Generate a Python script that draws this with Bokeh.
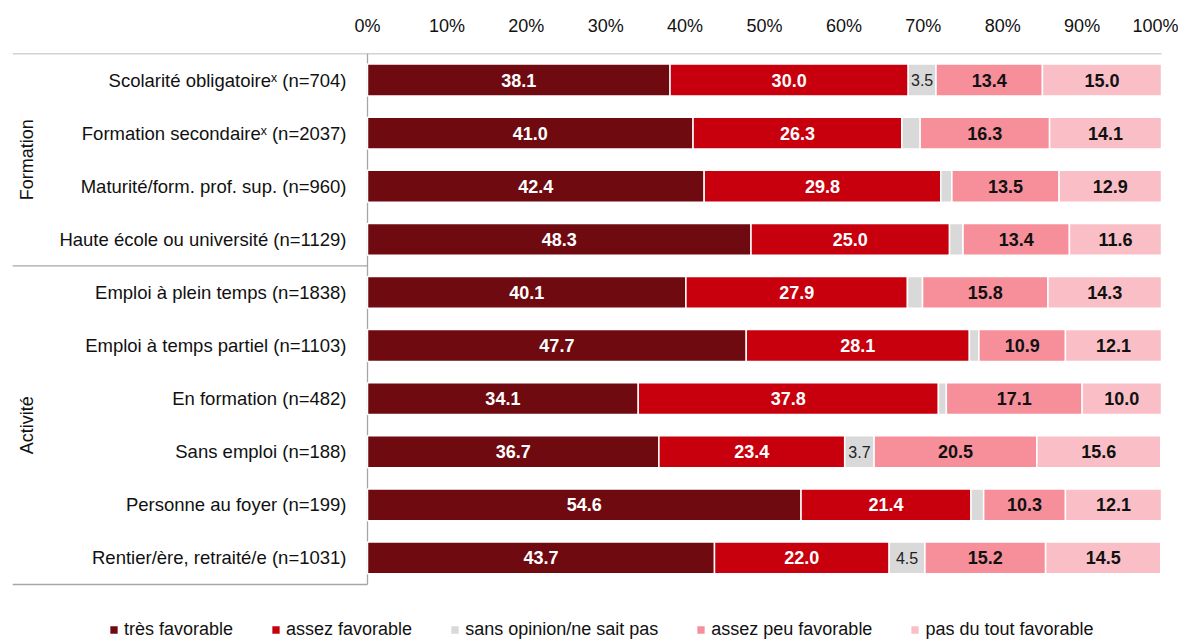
import numpy as np
from bokeh.plotting import figure
from bokeh.models import Range1d, ColumnDataSource, FixedTicker, Legend, LegendItem
from bokeh.core.properties import value
from bokeh.embed import file_html
from bokeh.resources import INLINE

categories = [
    "Scolarité obligatoire\u02e3 (n=704)",
    "Formation secondaire\u02e3 (n=2037)",
    "Maturité/form. prof. sup. (n=960)",
    "Haute école ou université (n=1129)",
    "Emploi à plein temps (n=1838)",
    "Emploi à temps partiel (n=1103)",
    "En formation (n=482)",
    "Sans emploi (n=188)",
    "Personne au foyer (n=199)",
    "Rentier/ère, retraité/e (n=1031)",
]
groups = ["Formation", "Activité"]
group_sizes = [4, 6]
series = ["très favorable", "assez favorable", "sans opinion/ne sait pas",
          "assez peu favorable", "pas du tout favorable"]
tres = [38.1, 41.0, 42.4, 48.3, 40.1, 47.7, 34.1, 36.7, 54.6, 43.7]
assez = [30.0, 26.3, 29.8, 25.0, 27.9, 28.1, 37.8, 23.4, 21.4, 22.0]
sans = [3.5, 2.3, 1.4, 1.7, 1.9, 1.2, 1.0, 3.7, 1.6, 4.5]
peu = [13.4, 16.3, 13.5, 13.4, 15.8, 10.9, 17.1, 20.5, 10.3, 15.2]
pas = [15.0, 14.1, 12.9, 11.6, 14.3, 12.1, 10.0, 15.6, 12.1, 14.5]
tick_values = [0, 10, 20, 30, 40, 50, 60, 70, 80, 90, 100]
tick_labels = ["0%", "10%", "20%", "30%", "40%", "50%", "60%", "70%", "80%", "90%", "100%"]

colors = ["#6E0A10", "#C8000E", "#D9D9D9", "#F78F9B", "#FABFC6"]
label_colors = ["white", "white", "#222222", "#111111", "#111111"]
FONT = "Liberation Sans"

data = [tres, assez, sans, peu, pas]
ys = np.arange(len(categories))

p = figure(width=1178, height=640, output_backend="svg", toolbar_location=None,
           x_axis_location="above", y_axis_type=None,
           min_border_left=12, min_border_right=8, min_border_top=53, min_border_bottom=0)
p.x_range = Range1d(-44.71, 101.13)
p.y_range = Range1d(10.555, -0.5)
p.outline_line_color = None
p.grid.visible = False
p.background_fill_color = "white"
p.border_fill_color = "white"

ax = p.xaxis[0]
ax.ticker = FixedTicker(ticks=tick_values)
ax.major_label_overrides = {v: l for v, l in zip(tick_values, tick_labels)}
ax.axis_line_color = None
ax.major_tick_line_color = None
ax.minor_tick_line_color = None
ax.major_label_standoff = 12
ax.major_label_text_font = FONT
ax.major_label_text_font_size = "18px"
ax.major_label_text_color = "#111111"

# frame lines
line_col = "#A6A6A6"
xmin = p.x_range.start
bounds = np.cumsum([0] + group_sizes) - 0.5
p.segment(x0=[xmin], y0=[-0.5], x1=[100], y1=[-0.5], line_color=line_col, line_width=1.3)
p.segment(x0=[0], y0=[-0.5], x1=[0], y1=[bounds[-1]], line_color=line_col, line_width=1.3)
p.segment(x0=[xmin] * (len(bounds) - 1), y0=list(bounds[1:]), x1=[0] * (len(bounds) - 1),
          y1=list(bounds[1:]), line_color=line_col, line_width=1.3)

renderers = []
left = np.zeros(len(categories))
for k, (name, vals) in enumerate(zip(series, data)):
    vals = np.array(vals)
    right = left + vals
    src = ColumnDataSource(dict(y=ys, left=left, right=right, mid=(left + right) / 2,
                                lab=["%.1f" % v for v in vals], v=vals))
    r = p.hbar(y="y", left="left", right="right", height=0.6, source=src,
               fill_color=colors[k], line_color="white", line_width=1.5)
    renderers.append(r)
    if k == 2:
        sel = vals >= 3
        s2 = ColumnDataSource(dict(x=((left + right) / 2)[sel], y=ys[sel],
                                   lab=["%.1f" % v for v in vals[sel]]))
        p.text(x="x", y="y", text="lab", source=s2, text_align="center", text_baseline="middle",
               text_font=value(FONT), text_font_size="16px", text_color=label_colors[k])
    else:
        p.text(x="mid", y="y", text="lab", source=src, text_align="center", text_baseline="middle",
               text_font=value(FONT), text_font_size="18px", text_font_style="bold",
               text_color=label_colors[k])
    left = right

# category labels
p.text(x=[0] * len(categories), y=ys, text=categories, x_offset=-21, text_align="right",
       text_baseline="middle", text_font=value(FONT), text_font_size="18.5px", text_color="#111111")

# group labels
gcent = [(bounds[i] + bounds[i + 1]) / 2 for i in range(len(groups))]
p.text(x=[xmin] * len(groups), y=gcent, text=groups, x_offset=14, angle=np.pi / 2,
       text_align="center", text_baseline="middle", text_font=value(FONT),
       text_font_size="18px", text_color="#111111")

legend = Legend(items=[LegendItem(label=s, renderers=[r]) for s, r in zip(series, renderers)],
                orientation="horizontal", location=(96, 0), glyph_width=11, glyph_height=11,
                label_standoff=5, spacing=37, padding=0, margin=0,
                border_line_alpha=0, background_fill_alpha=0,
                label_text_font=FONT, label_text_font_size="18px", label_text_color="#111111",
                label_height=22)
p.add_layout(legend)

open("out.html", "w").write(file_html(p, INLINE))
